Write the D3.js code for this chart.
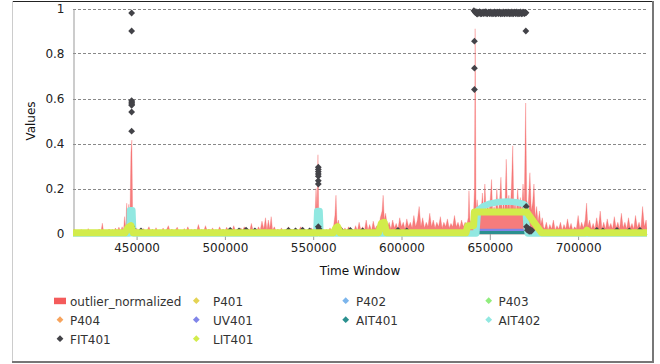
<!DOCTYPE html>
<html><head><meta charset="utf-8">
<script src="https://cdn.jsdelivr.net/npm/d3@7"></script>
<style>
body{margin:0;background:#fff}
text{font-family:"DejaVu Sans",Verdana,sans-serif}
</style>
</head><body>
<svg id="chart" width="660" height="364"></svg>
<script>
// ---------- data ----------
const yTicks = [0, 0.2, 0.4, 0.6, 0.8, 1];
const xTicks = [450000, 500000, 550000, 600000, 650000, 700000];
const seriesNames = ["outlier_normalized","P401","P402","P403","P404","UV401","AIT401","AIT402","FIT401","LIT401"];
const seriesColors = ["#f45b5b","#e4d354","#7cb5ec","#90ed7d","#f7a35c","#8085e9","#2b908f","#91e8e1","#434348","#d2ec4b"];

const outlier = [
[414000,0.006],[414800,0.02],[415600,0.005],[416800,0.012],[417800,0.004],[418600,0.018],[419600,0.006],[420800,0.01],[421800,0.005],[422600,0.022],[423600,0.006],[424800,0.012],[425800,0.004],[426800,0.016],[427800,0.008],[428800,0.02],[429800,0.006],[430600,0.046],[431400,0.006],[432400,0.014],[433400,0.008],[434400,0.02],[435400,0.01],[436400,0.018],[437200,0.008],[438000,0.024],[439000,0.012],[440000,0.028],[441000,0.01],[441800,0.03],[442600,0.012],[443200,0.075],[443800,0.02],[444400,0.135],[445000,0.03],[445600,0.13],[446200,0.05],[446800,0.36],[447300,0.415],[447800,0.06],[448400,0.015],
[449000,0.01],[450000,0.025],[451000,0.008],[452000,0.018],[453000,0.01],[454000,0.022],[455000,0.008],[456000,0.015],[457000,0.03],[458000,0.01],[459000,0.02],[460000,0.008],[461000,0.026],[462000,0.01],[463000,0.016],[464000,0.008],[465000,0.024],[466000,0.01],[467000,0.018],[468000,0.035],[469000,0.01],[470000,0.02],[471000,0.008],[472000,0.016],[473000,0.028],[474000,0.01],[475000,0.015],[476000,0.008],[477000,0.022],[478000,0.01],[479000,0.03],[480000,0.012],[481000,0.018],[482000,0.008],[483000,0.02],[484000,0.01],[485000,0.04],[486000,0.012],[487000,0.018],[488000,0.01],[489000,0.035],[490000,0.012],[491000,0.02],[492000,0.009],[493000,0.025],[494000,0.012],[495000,0.018],[496000,0.01],[497000,0.03],[498000,0.012],[499000,0.02],[500000,0.01],[501000,0.028],[502000,0.012],[503000,0.02],[504000,0.01],[505000,0.035],[506000,0.012],[507000,0.02],[508000,0.01],[509000,0.025],[510000,0.014],[511000,0.03],[512000,0.012],[513000,0.022],[514000,0.01],[515000,0.045],[516000,0.012],[517000,0.02],[518000,0.01],[519000,0.03],[520000,0.015],[521000,0.055],[522000,0.02],[523000,0.07],[523800,0.015],[524600,0.06],[525400,0.02],[526200,0.075],[527000,0.015],[528000,0.03],[529000,0.01],[530000,0.02],[531000,0.008],[532000,0.025],[533000,0.01],[534000,0.018],[535000,0.008],[536000,0.03],[537000,0.01],[538000,0.02],[539000,0.008],[540000,0.025],[541000,0.01],[542000,0.018],[543000,0.03],[544000,0.01],[545000,0.02],[546000,0.008],[547000,0.015],[548000,0.01],[549000,0.025],[550000,0.012],
[550800,0.03],[551600,0.2],[552200,0.1],[552700,0.35],[553200,0.05],[553800,0.015],[554600,0.01],
[555500,0.02],[556500,0.008],[557500,0.018],[558500,0.01],[559500,0.025],[560500,0.012],[561500,0.03],[562300,0.08],[562900,0.17],[563500,0.04],[564300,0.06],[565000,0.015],[566000,0.03],[567000,0.012],[568000,0.025],[569000,0.01],[570000,0.03],[571000,0.012],[572000,0.02],[573000,0.01],[574000,0.035],[575000,0.012],[576000,0.05],[577000,0.015],[578000,0.03],[579000,0.012],[580000,0.06],[581000,0.015],[582000,0.04],[583000,0.012],[584000,0.055],[585000,0.02],[586000,0.035],[587000,0.015],[588000,0.07],[589000,0.1],[589600,0.17],[590300,0.06],[591000,0.09],[592000,0.03],[593000,0.05],[594000,0.02],[595000,0.06],[596000,0.025],[597000,0.045],[598000,0.02],[599000,0.07],[600000,0.03],[601000,0.05],[602000,0.02],[603000,0.065],[604000,0.03],[605000,0.05],[606000,0.025],[607000,0.08],[608000,0.03],[609000,0.06],[610000,0.12],[611000,0.03],[612000,0.07],[613000,0.025],[614000,0.05],[615000,0.03],[616000,0.09],[617000,0.03],[618000,0.06],[619000,0.025],[620000,0.05],[621000,0.03],[622000,0.075],[623000,0.025],[624000,0.05],[625000,0.03],[626000,0.065],[627000,0.025],[628000,0.045],[629000,0.03],[630000,0.08],[631000,0.03],[632000,0.05],[633000,0.025],[634000,0.06],[635000,0.03],[636000,0.05],[637000,0.04],[637800,0.07],[638200,0.19],[638800,0.05],[639500,0.06],[640200,0.08],
[640800,0.09],[641300,0.2],[641700,0.91],[642200,0.09],[642800,0.15],[643500,0.09],[644200,0.11],[645000,0.085],[645800,0.18],[646500,0.09],[647200,0.22],[648000,0.088],[648800,0.13],[649500,0.09],[650300,0.16],[651000,0.24],[651600,0.09],[652400,0.12],[653200,0.09],[654000,0.2],[654700,0.09],[655500,0.14],[656300,0.25],[657000,0.09],[657800,0.15],[658500,0.09],[659300,0.33],[660000,0.1],[660800,0.17],[661500,0.09],[662300,0.22],[663000,0.39],[663600,0.1],[664300,0.14],[665000,0.09],[665800,0.2],[666500,0.1],[667300,0.16],[668000,0.09],[668800,0.22],[669500,0.12],[670300,0.58],[670900,0.15],[671700,0.12],[672700,0.27],[673500,0.1],[674300,0.14],[675000,0.22],[675700,0.07],[676500,0.12],[677300,0.05],[678100,0.1],[678900,0.04],[679700,0.07],[680400,0.03],
[681000,0.02],[682000,0.05],[683000,0.015],[684000,0.04],[685000,0.02],[686000,0.06],[687000,0.015],[688000,0.035],[689000,0.02],[690000,0.05],[691000,0.015],[692000,0.04],[693000,0.02],[694000,0.065],[695000,0.02],[696000,0.045],[697000,0.015],[698000,0.03],[699000,0.02],[700000,0.08],[701000,0.02],[702000,0.05],[703000,0.025],[704000,0.06],[704800,0.135],[705500,0.03],[706500,0.06],[707500,0.02],[708500,0.045],[709500,0.02],[710500,0.07],[711500,0.025],[712500,0.1],[713500,0.02],[714500,0.05],[715500,0.02],[716500,0.065],[717500,0.025],[718500,0.045],[719500,0.02],[720500,0.075],[721500,0.025],[722500,0.05],[723500,0.02],[724500,0.09],[725500,0.025],[726500,0.05],[727500,0.02],[728500,0.07],[729500,0.025],[730500,0.045],[731500,0.02],[732500,0.08],[733500,0.025],[734500,0.05],[735500,0.02],[736500,0.12],[737500,0.03],[738500,0.06],[739000,0.02]
];

const P401 = [];
const P402 = [];
const P403 = [];
const P404 = [];
const UV401 = [[643800,0.016],[668700,0.016]];
const AIT401 = [[643500,0.005],[669500,0.005]];
const AIT402 = [
[414000,0],[445800,0],[446300,0.103],[447600,0.103],[448100,0],
[551800,0],[552300,0.1],[553600,0.1],[554100,0],
[642300,0],[643300,0.104],[646000,0.12],[650000,0.133],[655000,0.14],[660000,0.142],[665000,0.139],[669000,0.132],[670200,0.125],[670800,0.03],[671500,0],[739000,0]
];
const FIT401 = [
[447200,0.98],[447200,0.9],[447200,0.59],[447300,0.585],[447200,0.58],[447300,0.575],[447200,0.57],[447200,0.54],[447200,0.455],[447300,0.03],[447600,0.022],
[452500,0.012],[503000,0.014],[508000,0.012],[512000,0.015],[517000,0.012],[536000,0.014],[540000,0.012],[544000,0.015],[548000,0.012],
[552900,0.295],[552900,0.285],[552900,0.275],[552900,0.265],[552900,0.255],[552900,0.235],[552900,0.22],[552900,0.03],[553300,0.02],
[566000,0.012],[571000,0.014],[578000,0.012],[598000,0.014],[603000,0.012],
[641300,0.64],[641300,0.735],[641300,0.855],[641000,0.99],
[641800,0.982],[642150,0.986],[642500,0.978],[642850,0.975],[643200,0.984],[643550,0.98],[643900,0.979],[644250,0.986],[644600,0.983],[644950,0.976],[645300,0.977],[645650,0.984],[646000,0.981],[646350,0.977],[646700,0.985],[647050,0.98],[647400,0.978],[647750,0.986],[648100,0.982],[648450,0.976],[648800,0.979],[649150,0.983],[649500,0.984],[649850,0.977],[650200,0.978],[650550,0.985],[650900,0.981],[651250,0.976],[651600,0.983],[651950,0.979],[652300,0.977],[652650,0.985],[653000,0.982],[653350,0.976],[653700,0.979],[654050,0.984],[654400,0.984],[654750,0.977],[655100,0.978],[655450,0.985],[655800,0.981],[656150,0.976],[656500,0.983],[656850,0.979],[657200,0.977],[657550,0.985],[657900,0.982],[658250,0.976],[658600,0.979],[658950,0.984],[659300,0.984],[659650,0.977],[660000,0.978],[660350,0.985],[660700,0.981],[661050,0.976],[661400,0.983],[661750,0.979],[662100,0.977],[662450,0.985],[662800,0.982],[663150,0.976],[663500,0.979],[663850,0.984],[664200,0.984],[664550,0.977],[664900,0.978],[665250,0.985],[665600,0.981],[665950,0.976],[666300,0.983],[666650,0.979],[667000,0.977],[667350,0.985],[667700,0.982],[668050,0.976],[668400,0.979],[668750,0.984],[669100,0.984],[669450,0.977],[669800,0.978],[670150,0.983],[670500,0.981],
[670400,0.9],[670600,0.12],[670800,0.03],[671300,0.015],[671800,0.022],[672300,0.01],[672800,0.018],[673300,0.01],[673800,0.014],
[710600,0.014],[714000,0.012],[722000,0.014],[729000,0.012],[735000,0.014]
];
const LIT401 = [
[414000,0.003],[443500,0.003],[445000,0.025],[446800,0.035],[448000,0.003],
[561500,0.003],[562800,0.025],[563800,0.03],[565200,0.003],
[587000,0.003],[588600,0.045],[590200,0.05],[591500,0.003],
[636500,0.003],[637500,0.035],[640800,0.035],[641300,0.096],[670800,0.096],[679300,0.003],
[704000,0.003],[705000,0.015],[706000,0.003],[739000,0.003]
];

// ---------- chart ----------
const svg = d3.select("#chart");
const x = d3.scaleLinear().domain([414000, 739000]).range([73, 647]);
const y = d3.scaleLinear().domain([0, 1]).range([233.5, 8.5]);

// frame
svg.append("rect").attr("x",12).attr("y",1).attr("width",641).attr("height",361).attr("fill","#fff");
svg.append("line").attr("x1",12).attr("x2",654).attr("y1",1.5).attr("y2",1.5).attr("stroke","#222");
svg.append("line").attr("x1",12.5).attr("x2",12.5).attr("y1",1).attr("y2",363).attr("stroke","#ccc");
svg.append("line").attr("x1",653).attr("x2",653).attr("y1",1).attr("y2",363).attr("stroke","#777").attr("stroke-width",2);
svg.append("line").attr("x1",12).attr("x2",654).attr("y1",362).attr("y2",362).attr("stroke","#777").attr("stroke-width",2);

// grid
svg.append("g").selectAll("line").data(yTicks.filter(d => d > 0)).join("line")
  .attr("x1",73).attr("x2",647)
  .attr("y1",d => Math.round(y(d)) + 0.5).attr("y2",d => Math.round(y(d)) + 0.5)
  .attr("stroke","#888").attr("stroke-dasharray","3,2");

// y axis
const yAxis = svg.append("g").attr("transform","translate(73.5,0)")
  .call(d3.axisLeft(y).tickValues(yTicks).tickFormat(d3.format("~g")).tickSize(0).tickPadding(9));
yAxis.select(".domain").attr("stroke","#999");
yAxis.selectAll("text").attr("font-size",12).attr("fill","#222");

// x axis
const xAxis = svg.append("g").attr("transform","translate(0,234)")
  .call(d3.axisBottom(x).tickValues(xTicks).tickFormat(d3.format("d")).tickSize(6).tickSizeOuter(0).tickPadding(3));
xAxis.select(".domain").attr("stroke","#ccc");
xAxis.selectAll(".tick line").attr("stroke","#999");
xAxis.selectAll("text").attr("font-size",12).attr("fill","#222");

// axis titles
svg.append("text").attr("x",360).attr("y",275).attr("text-anchor","middle")
  .attr("font-size",12).attr("fill","#111").text("Time Window");
svg.append("text").attr("transform","translate(34.5,121) rotate(-90)").attr("text-anchor","middle")
  .attr("font-size",12).attr("fill","#111").text("Values");

// clip
svg.append("clipPath").attr("id","plotclip").append("rect")
  .attr("x",73).attr("y",0).attr("width",574).attr("height",240);
const plot = svg.append("g").attr("clip-path","url(#plotclip)");

// outlier area
const area = d3.area().x(d => x(d[0])).y0(y(0)).y1(d => y(d[1]));
plot.append("path").datum(outlier).attr("d",area)
  .attr("fill",seriesColors[0]).attr("fill-opacity",0.8)
  .attr("stroke",seriesColors[0]).attr("stroke-opacity",0.35).attr("stroke-width",0.8);

const line = d3.line().x(d => x(d[0])).y(d => y(d[1]));
function drawLine(data, color, width) {
  if (data.length < 2) return;
  plot.append("path").datum(data).attr("d",line).attr("fill","none")
    .attr("stroke",color).attr("stroke-width",width)
    .attr("stroke-linecap","round").attr("stroke-linejoin","round");
}
drawLine(P401, seriesColors[1], 2);
drawLine(P402, seriesColors[2], 2);
drawLine(P403, seriesColors[3], 2);
drawLine(P404, seriesColors[4], 2);
drawLine(UV401, seriesColors[5], 2.5);
drawLine(AIT401, seriesColors[6], 3);
drawLine(AIT402, seriesColors[7], 6.5);

const diamond = r => `M0,${-r}L${r},0L0,${r}L${-r},0Z`;
plot.append("g").selectAll("path").data(FIT401).join("path")
  .attr("d",diamond(3.4))
  .attr("transform",d => `translate(${x(d[0])},${y(d[1])})`)
  .attr("fill",seriesColors[8]);

drawLine(LIT401, seriesColors[9], 7);

// legend
const colText = [70, 213, 356, 498.5];
const colSym = [60, 196.3, 345.7, 488.7];
const rowBase = [305.5, 324.5, 343.5];
const leg = svg.append("g");
seriesNames.forEach((name, i) => {
  const c = i % 4, r = Math.floor(i / 4);
  const cy = rowBase[r] - 4.8;
  if (i === 0) {
    leg.append("rect").attr("x",54).attr("y",cy - 3).attr("width",12).attr("height",6.5)
      .attr("fill",seriesColors[i]);
  } else {
    leg.append("path").attr("d",diamond(3.4))
      .attr("transform",`translate(${colSym[c]},${cy})`).attr("fill",seriesColors[i]);
  }
  leg.append("text").attr("x",colText[c]).attr("y",rowBase[r])
    .attr("font-size",12).attr("fill","#333").text(name);
});
</script>
</body></html>
